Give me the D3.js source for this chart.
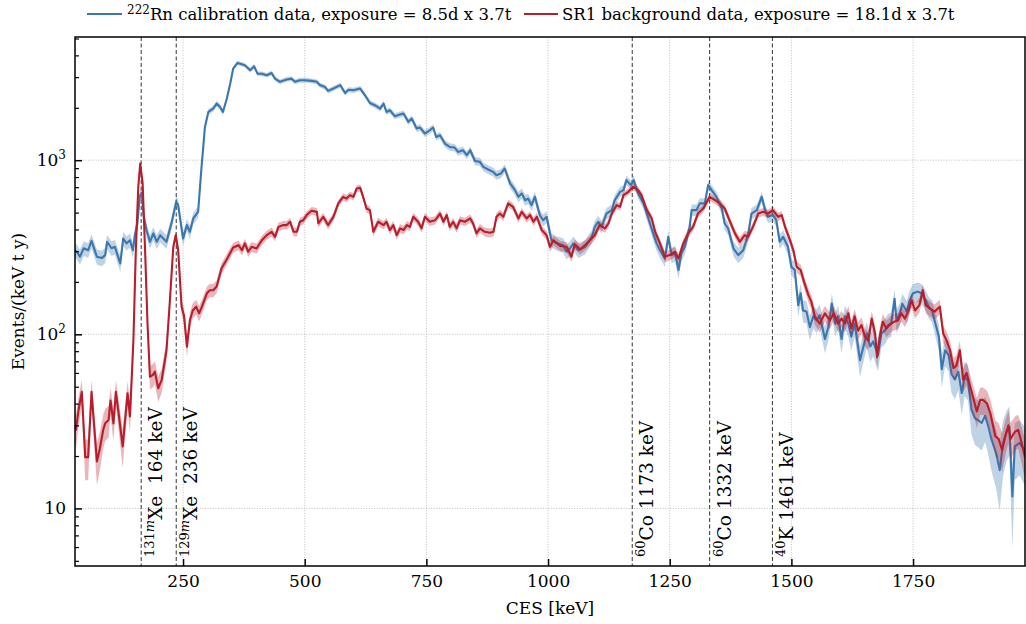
<!DOCTYPE html>
<html>
<head>
<meta charset="utf-8">
<script src="https://cdn.jsdelivr.net/npm/d3@7"></script>
<style>
  body { margin: 0; background: #fff; }
  svg { display: block; }
  text { font-family: "DejaVu Serif", serif; fill: #000; }
</style>
</head>
<body>
<svg id="chart" width="1026" height="624"></svg>
<script>
// 222Rn calibration spectrum: energy [keV] and rate [events/(keV t y)]
const rnEnergy = [28, 32, 38, 46, 55, 62, 73, 83, 90, 94, 103, 110, 121, 127, 134, 141, 147, 151, 156, 161, 165, 169, 175, 182, 189, 196, 203, 216, 227, 236, 240, 250, 258, 264, 271, 281, 288, 295, 302, 312, 319, 326, 332, 340, 347, 353, 362, 371, 377, 388, 396, 403, 412, 422, 432, 439, 449, 463, 473, 480, 490, 501, 514, 525, 531, 542, 548, 559, 573, 583, 590, 600, 614, 624, 634, 644, 655, 662, 668, 675, 685, 696, 703, 713, 720, 730, 737, 747, 757, 764, 770, 778, 788, 798, 808, 815, 825, 833, 840, 850, 860, 867, 877, 887, 894, 903, 911, 922, 932, 939, 946, 953, 959, 966, 973, 983, 990, 997, 1007, 1018, 1031, 1038, 1045, 1052, 1062, 1076, 1090, 1096, 1103, 1110, 1120, 1131, 1137, 1148, 1155, 1161, 1170, 1176, 1185, 1196, 1206, 1216, 1223, 1230, 1240, 1247, 1254, 1261, 1268, 1274, 1281, 1291, 1295, 1305, 1312, 1322, 1329, 1336, 1346, 1357, 1363, 1370, 1381, 1391, 1401, 1411, 1418, 1429, 1439, 1446, 1452, 1462, 1469, 1476, 1483, 1493, 1500, 1507, 1514, 1519, 1524, 1531, 1538, 1545, 1552, 1558, 1569, 1576, 1583, 1590, 1596, 1603, 1610, 1617, 1623, 1630, 1641, 1648, 1655, 1662, 1668, 1678, 1685, 1692, 1699, 1705, 1712, 1716, 1723, 1728, 1737, 1743, 1750, 1760, 1767, 1776, 1782, 1789, 1796, 1803, 1809, 1816, 1823, 1829, 1836, 1843, 1850, 1856, 1863, 1870, 1877, 1884, 1891, 1898, 1904, 1911, 1921, 1928, 1935, 1942, 1948, 1954, 1959, 1969, 1980];
const rnRate = [304, 298, 279, 312, 304, 344, 279, 274, 285, 340, 312, 318, 255, 355, 333, 347, 304, 371, 430, 620, 650, 480, 396, 340, 380, 340, 371, 340, 443, 577, 552, 355, 424, 388, 463, 505, 915, 1553, 1893, 1980, 2115, 2020, 1893, 2260, 2760, 3360, 3620, 3555, 3510, 3285, 3465, 3140, 3140, 3075, 3165, 2940, 2820, 2910, 2940, 2820, 2880, 2880, 2855, 2820, 2700, 2630, 2500, 2580, 2700, 2430, 2540, 2520, 2580, 2360, 2130, 2070, 1980, 2115, 1893, 1935, 1790, 1830, 1855, 1660, 1735, 1520, 1540, 1423, 1486, 1540, 1360, 1390, 1246, 1192, 1182, 1116, 1141, 1068, 1141, 990, 978, 915, 884, 857, 820, 838, 896, 735, 673, 616, 644, 589, 602, 552, 616, 484, 452, 473, 347, 333, 325, 298, 311, 333, 304, 318, 363, 414, 443, 414, 494, 517, 589, 658, 673, 768, 719, 768, 644, 565, 463, 380, 333, 304, 272, 363, 285, 291, 234, 291, 318, 414, 517, 517, 565, 565, 719, 673, 616, 528, 433, 406, 311, 285, 304, 371, 494, 517, 616, 517, 473, 484, 452, 340, 363, 318, 244, 234, 147, 172, 137, 135, 110, 127, 120, 129, 94, 110, 150, 115, 127, 94, 127, 115, 97, 115, 71, 85, 101, 85, 91, 76, 101, 105, 113, 115, 160, 120, 132, 150, 135, 157, 172, 176, 172, 157, 144, 137, 115, 97, 63, 81, 76, 59, 55, 61, 46, 57, 54, 37, 33, 32, 31, 34, 30, 25, 20.6, 16.6, 23.8, 27.5, 29.4, 11.7, 22.7, 23.8, 21.3];

// SR1 background spectrum: energy [keV] and rate [events/(keV t y)]
const bgEnergy = [28, 30, 35, 42, 49, 55, 62, 73, 79, 86, 90, 97, 101, 107, 112, 117, 126, 136, 141, 148, 153, 158, 162, 167, 172, 177, 182, 188, 192, 199, 206, 216, 223, 230, 235, 240, 247, 252, 258, 264, 270, 277, 283, 290, 299, 305, 312, 319, 329, 340, 353, 364, 371, 377, 384, 391, 401, 412, 422, 432, 439, 446, 456, 463, 470, 477, 484, 490, 497, 504, 514, 525, 528, 538, 548, 559, 569, 579, 586, 593, 600, 607, 614, 620, 627, 634, 641, 651, 662, 668, 675, 682, 689, 696, 703, 710, 716, 723, 733, 740, 747, 757, 768, 778, 785, 792, 798, 805, 812, 819, 829, 840, 846, 853, 860, 870, 881, 888, 894, 901, 908, 918, 928, 939, 946, 956, 963, 970, 977, 987, 997, 1004, 1011, 1025, 1038, 1048, 1055, 1066, 1076, 1086, 1096, 1106, 1117, 1124, 1131, 1141, 1148, 1155, 1165, 1175, 1185, 1192, 1203, 1213, 1220, 1230, 1240, 1250, 1261, 1268, 1278, 1288, 1298, 1308, 1319, 1332, 1343, 1353, 1363, 1374, 1384, 1394, 1404, 1411, 1421, 1432, 1442, 1452, 1462, 1473, 1480, 1487, 1497, 1504, 1511, 1519, 1526, 1535, 1541, 1548, 1558, 1569, 1579, 1587, 1596, 1603, 1610, 1617, 1623, 1630, 1637, 1644, 1651, 1658, 1665, 1672, 1676, 1682, 1688, 1695, 1704, 1711, 1719, 1726, 1733, 1740, 1747, 1754, 1763, 1770, 1776, 1784, 1794, 1805, 1812, 1819, 1826, 1833, 1839, 1846, 1853, 1860, 1871, 1881, 1888, 1894, 1902, 1909, 1919, 1926, 1933, 1940, 1946, 1950, 1959, 1966, 1973, 1980];
const bgRate = [30, 28.3, 36.3, 46.7, 19.7, 19.7, 46.7, 18.6, 22, 28.3, 30.8, 32.2, 41.7, 30.8, 46.7, 36.3, 22.7, 45.8, 33.8, 92.4, 304, 700, 957, 735, 304, 115, 57, 58.5, 61, 49, 54.5, 81, 157, 318, 371, 304, 144, 128, 85, 120, 137, 144, 132, 147, 172, 179, 179, 188, 239, 270, 315, 325, 304, 333, 298, 318, 311, 347, 371, 388, 363, 414, 424, 424, 443, 388, 388, 443, 452, 484, 512, 505, 433, 473, 424, 473, 565, 616, 602, 630, 616, 688, 694, 616, 528, 517, 388, 443, 424, 443, 397, 424, 371, 406, 397, 424, 414, 473, 443, 406, 473, 443, 452, 494, 443, 484, 414, 443, 406, 452, 443, 463, 433, 380, 406, 388, 383, 388, 473, 494, 473, 565, 540, 463, 505, 463, 484, 443, 473, 397, 371, 318, 347, 322, 318, 279, 329, 308, 325, 347, 371, 424, 406, 433, 494, 552, 540, 630, 658, 703, 673, 630, 517, 463, 388, 333, 279, 285, 298, 272, 333, 380, 414, 494, 528, 616, 589, 565, 528, 443, 380, 340, 371, 363, 414, 494, 505, 494, 517, 473, 484, 414, 347, 304, 244, 234, 200, 168, 154, 127, 115, 132, 120, 132, 115, 123, 115, 132, 108, 127, 105, 113, 97, 92, 123, 101, 74, 99, 118, 108, 115, 118, 120, 132, 123, 135, 157, 137, 147, 179, 147, 141, 135, 144, 101, 92, 81, 64, 66, 81, 55, 60, 46, 36, 42, 42, 40, 35, 26, 25, 21.6, 26.3, 30, 25, 27.5, 28.3, 23.8, 19.7];

// Exposures in tonne-years, histogram bin width in keV
const rnExposure = 8.5 * 3.7 / 365.25;
const bgExposure = 18.1 * 3.7 / 365.25;
const binWidth = 4;

// Gamma lines marked on the spectrum
const lineEnergies = [164, 236, 1173, 1332, 1461];
const lineMass = ["131", "129", "60", "60", "40"];
const lineMeta = ["m", "m", "", "", ""];
const lineElement = ["Xe", "Xe", "Co", "Co", "K"];

const xTicks = [250, 500, 750, 1000, 1250, 1500, 1750];
const yTicks = [10, 100, 1000];
const yTickExp = ["", "2", "3"];

const colRn = "#3a77af", colBg = "#b81d2b";

const svg = d3.select("#chart");
const M = { left: 75, right: 1025, top: 37, bottom: 566 };

const x = d3.scaleLinear().domain([28, 1980]).range([M.left, M.right]);
const y = d3.scaleLog().domain([4.67, 5100]).range([M.bottom, M.top]);

svg.append("defs").append("clipPath").attr("id", "plotClip")
  .append("rect").attr("x", M.left).attr("y", M.top)
  .attr("width", M.right - M.left).attr("height", M.bottom - M.top);

// grid
const grid = svg.append("g").attr("stroke", "#b9b9b9").attr("stroke-width", 0.9)
  .attr("stroke-dasharray", "1,1.6");
grid.selectAll("line.gx").data(xTicks).join("line")
  .attr("x1", d => x(d)).attr("x2", d => x(d)).attr("y1", M.top).attr("y2", M.bottom);
grid.selectAll("line.gy").data(yTicks).join("line")
  .attr("x1", M.left).attr("x2", M.right).attr("y1", d => y(d)).attr("y2", d => y(d));

// marked gamma lines
svg.append("g").selectAll("line").data(lineEnergies).join("line")
  .attr("x1", d => x(d)).attr("x2", d => x(d)).attr("y1", M.top).attr("y2", M.bottom)
  .attr("stroke", "#333").attr("stroke-width", 1).attr("stroke-dasharray", "4,2.5");

const plot = svg.append("g").attr("clip-path", "url(#plotClip)");

function drawSpectrum(E, R, expo, color) {
  const pts = E.map((e, i) => {
    const s = Math.sqrt(R[i] / (expo * binWidth));
    return { e, r: R[i], lo: Math.max(R[i] - s, 1), hi: R[i] + s };
  });
  plot.append("path").datum(pts)
    .attr("fill", color).attr("fill-opacity", 0.32)
    .attr("d", d3.area().x(d => x(d.e)).y0(d => y(d.lo)).y1(d => y(d.hi)));
  plot.append("path").datum(pts)
    .attr("fill", "none").attr("stroke", color).attr("stroke-width", 2.1)
    .attr("stroke-linejoin", "round")
    .attr("d", d3.line().x(d => x(d.e)).y(d => y(d.r)));
}
drawSpectrum(rnEnergy, rnRate, rnExposure, colRn);
drawSpectrum(bgEnergy, bgRate, bgExposure, colBg);

// line labels, rotated
const labs = svg.append("g");
lineEnergies.forEach((e, i) => {
  const t = labs.append("text")
    .attr("transform", `translate(${x(e) + 21},${M.bottom - 9}) rotate(-90)`)
    .attr("font-size", 18.5);
  t.append("tspan").attr("font-size", 13).attr("dy", -8).text(lineMass[i])
    .append("tspan").attr("font-style", "italic").text(lineMeta[i]);
  t.append("tspan").attr("dy", 8).text(lineElement[i] + (i < 2 ? "\u00a0 " : " ") + e + " keV");
});

// axes
const ax = svg.append("g");
const xAxis = d3.axisBottom(x).tickValues(xTicks).tickSize(-7).tickPadding(12).tickFormat(d3.format("d"));
const gx = ax.append("g").attr("transform", `translate(0,${M.bottom})`).call(xAxis);
gx.select(".domain").remove();
gx.selectAll(".tick line").attr("stroke", "#000").attr("stroke-width", 1.5);
gx.selectAll(".tick text").attr("font-size", 17).attr("font-family", "DejaVu Serif").attr("dy", "0.5em");

const minorY = [];
[1, 10, 100, 1000].forEach(dec => { for (let k = 2; k <= 9; k++) { const v = k * dec; if (v > 4.67 && v < 5100) minorY.push(v); } });
const gyMinor = ax.append("g").attr("transform", `translate(${M.left},0)`)
  .call(d3.axisLeft(y).tickValues(minorY).tickSize(-4).tickFormat(""));
gyMinor.select(".domain").remove();
gyMinor.selectAll(".tick line").attr("stroke", "#000").attr("stroke-width", 1.2);

const gy = ax.append("g").attr("transform", `translate(${M.left},0)`)
  .call(d3.axisLeft(y).tickValues(yTicks).tickSize(-7).tickFormat(""));
gy.select(".domain").remove();
gy.selectAll(".tick line").attr("stroke", "#000").attr("stroke-width", 1.5);
yTicks.forEach((v, i) => {
  const t = ax.append("text").attr("x", M.left - 9).attr("y", y(v) + 6)
    .attr("text-anchor", "end").attr("font-size", 17);
  t.append("tspan").text("10");
  if (yTickExp[i]) t.append("tspan").attr("font-size", 12).attr("dy", -7).text(yTickExp[i]);
});

ax.append("rect").attr("x", M.left).attr("y", M.top)
  .attr("width", M.right - M.left).attr("height", M.bottom - M.top)
  .attr("fill", "none").attr("stroke", "#000").attr("stroke-width", 1.5);

// axis titles
svg.append("text").attr("x", (M.left + M.right) / 2).attr("y", 614)
  .attr("text-anchor", "middle").attr("font-size", 17).text("CES [keV]");
svg.append("text").attr("transform", `translate(24,${(M.top + M.bottom) / 2}) rotate(-90)`)
  .attr("text-anchor", "middle").attr("font-size", 17).text("Events/(keV t y)");

// legend
const leg = svg.append("g");
leg.append("line").attr("x1", 87).attr("x2", 122).attr("y1", 14).attr("y2", 14)
  .attr("stroke", colRn).attr("stroke-width", 2.1);
const lt1 = leg.append("text").attr("x", 127).attr("y", 20).attr("font-size", 16.5);
lt1.append("tspan").attr("font-size", 12).attr("dy", -6).text("222");
lt1.append("tspan").attr("dy", 6).text("Rn calibration data, exposure = 8.5d x 3.7t");
leg.append("line").attr("x1", 524).attr("x2", 558).attr("y1", 14).attr("y2", 14)
  .attr("stroke", colBg).attr("stroke-width", 2.1);
leg.append("text").attr("x", 562).attr("y", 20).attr("font-size", 16.5)
  .text("SR1 background data, exposure = 18.1d x 3.7t");
</script>
</body>
</html>
